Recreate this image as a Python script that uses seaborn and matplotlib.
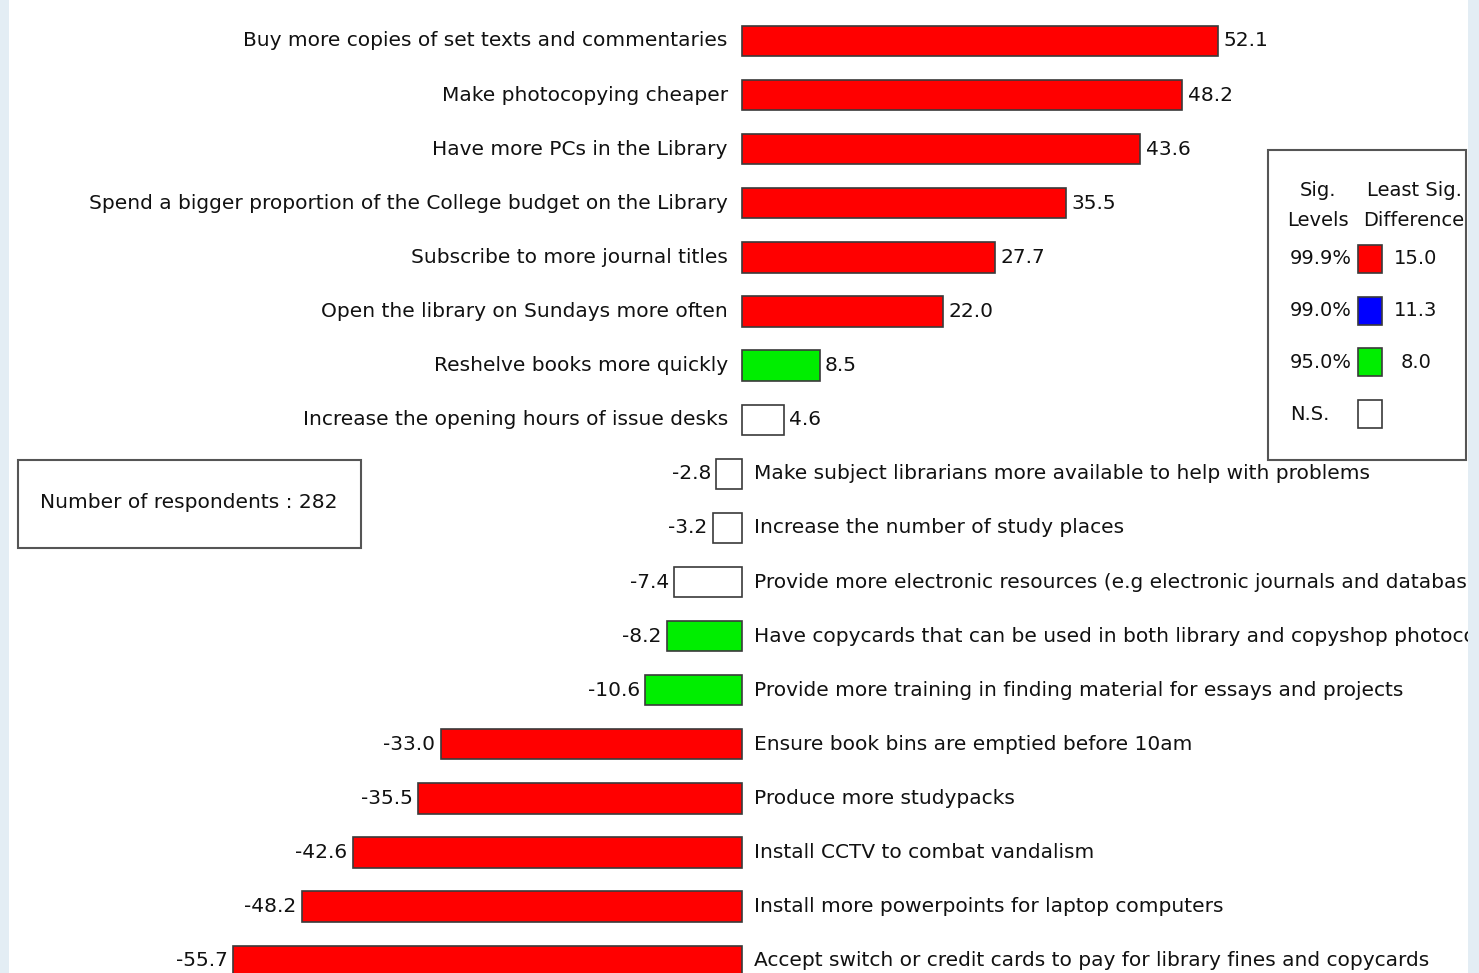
import matplotlib
matplotlib.use("Agg")
import matplotlib.pyplot as plt
import seaborn as sb
import pandas as pd
from matplotlib.patches import Rectangle

labels = [
    "Buy more copies of set texts and commentaries",
    "Make photocopying cheaper",
    "Have more PCs in the Library",
    "Spend a bigger proportion of the College budget on the Library",
    "Subscribe to more journal titles",
    "Open the library on Sundays more often",
    "Reshelve books more quickly",
    "Increase the opening hours of issue desks",
    "Make subject librarians more available to help with problems",
    "Increase the number of study places",
    "Provide more electronic resources (e.g electronic journals and databases)",
    "Have copycards that can be used in both library and copyshop photocopiers",
    "Provide more training in finding material for essays and projects",
    "Ensure book bins are emptied before 10am",
    "Produce more studypacks",
    "Install CCTV to combat vandalism",
    "Install more powerpoints for laptop computers",
    "Accept switch or credit cards to pay for library fines and copycards",
]
values = [52.1, 48.2, 43.6, 35.5, 27.7, 22.0, 8.5, 4.6,
          -2.8, -3.2, -7.4, -8.2, -10.6, -33.0, -35.5, -42.6, -48.2, -55.7]
sig = ["99.9%", "99.9%", "99.9%", "99.9%", "99.9%", "99.9%", "95.0%", "N.S.",
       "N.S.", "N.S.", "N.S.", "95.0%", "95.0%", "99.9%", "99.9%", "99.9%", "99.9%", "99.9%"]

sig_levels = ["99.9%", "99.0%", "95.0%", "N.S."]
lsd = ["15.0", "11.3", "8.0", ""]
sig_colors = {"99.9%": "#ff0000", "99.0%": "#0000ff", "95.0%": "#00ee00", "N.S.": "#ffffff"}
respondents = 282

df = pd.DataFrame({"label": labels, "value": values, "sig": sig})
pal = {l: sig_colors[s] for l, s in zip(labels, sig)}

W, H = 1479, 973
fig = plt.figure(figsize=(W / 100, H / 100), dpi=100)
fig.patch.set_facecolor("white")
ax = fig.add_axes([0, 0, 1, 1])

sb.barplot(data=df, x="value", y="label", hue="label", palette=pal, legend=False,
           orient="h", width=0.56, saturation=1, edgecolor="#3a3a3a", linewidth=1.2, ax=ax)

# scale: ~9.13 px per unit, zero at x=742; rows ~54 px apart starting y=41
k = 9.13
ax.set_xlim(-742 / k, (W - 742) / k)
ax.set_ylim((H - 41) / 54.1, -41 / 54.1)
ax.axis("off")

fs = 14.5
tc = "#111111"
for i, (lab, v) in enumerate(zip(labels, values)):
    if v >= 0:
        ax.text(-1.55, i, lab, ha="right", va="center", fontsize=fs, color=tc)
        ax.text(v + 0.6, i, f"{v:.1f}", ha="left", va="center", fontsize=fs, color=tc)
    else:
        ax.text(1.3, i, lab, ha="left", va="center", fontsize=fs, color=tc)
        ax.text(v - 0.6, i, f"{v:.1f}", ha="right", va="center", fontsize=fs, color=tc)

# legend box (pixel positions converted to figure coords)
def fx(px):
    return px / W

def fy(py):
    return 1 - py / H

lfs = 14
fig.patches.append(Rectangle((fx(1268), fy(460)), fx(1466) - fx(1268), fy(150) - fy(460),
                             transform=fig.transFigure, fill=False, edgecolor="#555555", lw=1.5))
fig.text(fx(1318), fy(190), "Sig.", ha="center", va="center", fontsize=lfs, color=tc)
fig.text(fx(1318), fy(221), "Levels", ha="center", va="center", fontsize=lfs, color=tc)
fig.text(fx(1414), fy(190), "Least Sig.", ha="center", va="center", fontsize=lfs, color=tc)
fig.text(fx(1414), fy(221), "Difference", ha="center", va="center", fontsize=lfs, color=tc)
for j, (lev, d) in enumerate(zip(sig_levels, lsd)):
    yc = 259 + j * 51.7
    fig.text(fx(1290), fy(yc), lev, ha="left", va="center", fontsize=lfs, color=tc, zorder=1)
    fig.patches.append(Rectangle((fx(1358), fy(yc + 14)), fx(1382) - fx(1358), fy(yc - 14) - fy(yc + 14),
                                 transform=fig.transFigure, facecolor=sig_colors[lev],
                                 edgecolor="#3a3a3a", lw=1.2, zorder=3))
    if d:
        fig.text(fx(1416), fy(yc), d, ha="center", va="center", fontsize=lfs, color=tc)

# respondents box
fig.patches.append(Rectangle((fx(18), fy(548)), fx(361) - fx(18), fy(460) - fy(548),
                             transform=fig.transFigure, fill=False, edgecolor="#555555", lw=1.5))
fig.text(fx(189), fy(503), f"Number of respondents : {respondents}", ha="center", va="center",
         fontsize=fs, color=tc)

# light blue frame strips at the edges
fig.patches.append(Rectangle((0, 0), fx(9), 1, transform=fig.transFigure,
                             facecolor="#e3edf4", edgecolor="none", zorder=5))
fig.patches.append(Rectangle((fx(1468), 0), 1 - fx(1468), 1, transform=fig.transFigure,
                             facecolor="#e3edf4", edgecolor="none", zorder=5))

plt.savefig("out.png", dpi=100)
